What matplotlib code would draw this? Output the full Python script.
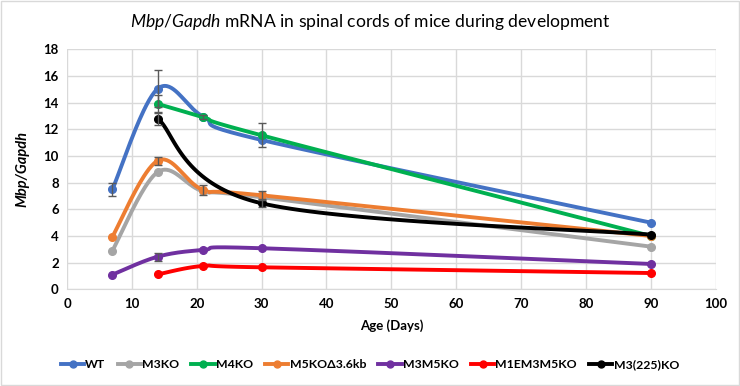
import numpy as np
import matplotlib
matplotlib.use('Agg')
from matplotlib import pyplot as plt
from matplotlib.patches import Rectangle

plt.rcParams['font.family'] = ['Lato', 'DejaVu Sans']
plt.rcParams['mathtext.fontset'] = 'custom'
plt.rcParams['mathtext.it'] = 'Lato:italic'
plt.rcParams['mathtext.rm'] = 'Lato'

# data
names = ['WT', 'M3KO', 'M4KO', 'M5KO\u03943.6kb', 'M3M5KO', 'M1EM3M5KO', 'M3(225)KO']
colors = ['#4472C4', '#A5A5A5', '#00B050', '#ED7D31', '#7030A0', '#FF0000', '#000000']

wt_days = [7, 14, 21, 30, 90]
wt_vals = [7.5, 15.05, 12.95, 11.2, 5.0]
wt_err = [0.5, 1.4, 0.15, 0, 0]

m3_days = [7, 14, 21, 30, 90]
m3_vals = [2.9, 8.8, 7.35, 6.9, 3.2]
m3_err = [0, 0, 0, 0, 0]

m4_days = [14, 21, 30, 90]
m4_vals = [13.9, 12.9, 11.55, 4.0]
m4_err = [0.7, 0, 0.9, 0]

m5_days = [7, 14, 21, 30, 90]
m5_vals = [3.95, 9.65, 7.45, 7.05, 4.0]
m5_err = [0, 0.3, 0.4, 0.35, 0]

m3m5_days = [7, 14, 21, 30, 90]
m3m5_vals = [1.1, 2.45, 2.95, 3.08, 1.9]
m3m5_err = [0, 0.3, 0, 0, 0]

m1e_days = [14, 21, 30, 90]
m1e_vals = [1.12, 1.75, 1.65, 1.22]
m1e_err = [0, 0, 0, 0]

m225_days = [14, 30, 90]
m225_vals = [12.8, 6.45, 4.1]
m225_err = [0.5, 0.3, 0]

series = [(wt_days, wt_vals, wt_err), (m3_days, m3_vals, m3_err),
          (m4_days, m4_vals, m4_err), (m5_days, m5_vals, m5_err),
          (m3m5_days, m3m5_vals, m3m5_err), (m1e_days, m1e_vals, m1e_err),
          (m225_days, m225_vals, m225_err)]


# smoothed line like Excel (catmull-rom bezier)
def smooth(x, y, n=40):
    p = np.column_stack([x, y]).astype(float)
    pts = [p[0]]
    for i in range(len(p) - 1):
        p0 = p[i - 1] if i > 0 else p[i]
        p3 = p[i + 2] if i + 2 < len(p) else p[i + 1]
        c1 = p[i] + (p[i + 1] - p0) / 6
        c2 = p[i + 1] - (p3 - p[i]) / 6
        t = np.linspace(0, 1, n)[1:, None]
        b = (1 - t)**3 * p[i] + 3 * (1 - t)**2 * t * c1 + 3 * (1 - t) * t**2 * c2 + t**3 * p[i + 1]
        pts.extend(b)
    pts = np.array(pts)
    return pts[:, 0], pts[:, 1]


fig = plt.figure(figsize=(7.4, 3.86), dpi=100)
ax = fig.add_axes([67 / 740, 1 - 289.3 / 386, (715.7 - 67) / 740, (289.3 - 49.3) / 386])
fig.patches.append(Rectangle((0.002, 0.003), 0.996, 0.994, transform=fig.transFigure,
                             fill=False, edgecolor='#D9D9D9', lw=1))

handles = []
for (d, v, e), name, c in zip(series, names, colors):
    sx, sy = smooth(d, v)
    ax.plot(sx, sy, color=c, lw=2.8, solid_capstyle='round', zorder=2)
    ax.plot(d, v, 'o', color=c, ms=5.5, zorder=3)
    e = np.array(e)
    m = e > 0
    if m.any():
        ax.errorbar(np.array(d)[m], np.array(v)[m], yerr=e[m], fmt='none',
                    ecolor='#595959', elinewidth=1, capsize=3, capthick=1, zorder=4)
    h, = ax.plot([], [], color=c, lw=2.8, marker='o', ms=5, label=name)
    handles.append(h)

ax.set_xlim(0, 100)
ax.set_ylim(0, 18)
ax.set_xticks(range(0, 101, 10))
ax.set_yticks(range(0, 19, 2))
ax.grid(True, color='#D9D9D9', lw=1)
ax.set_axisbelow(True)
for s in ['top', 'right', 'left']:
    ax.spines[s].set_visible(False)
ax.spines['bottom'].set_color('#D9D9D9')
ax.tick_params(length=0, labelsize=9.5, pad=6)
for lab in ax.get_xticklabels() + ax.get_yticklabels():
    lab.set_fontweight('bold')

ax.set_xlabel('Age (Days)', fontsize=9.5, fontweight='bold', labelpad=7)
ax.set_ylabel('Mbp/Gapdh', fontsize=10.5, fontweight='bold', style='italic', labelpad=10)

fig.text(0.5, 1 - 22 / 386, r'$Mbp/Gapdh$ mRNA in spinal cords of mice during development',
         ha='center', va='center', fontsize=12.6)

fig.legend(handles=handles, loc='center', bbox_to_anchor=(0.5, 1 - 365 / 386), ncol=7,
           frameon=False, prop={'weight': 'bold', 'size': 8.8}, handlelength=1.9,
           handletextpad=0.1, columnspacing=1.0)

fig.savefig('out.png', dpi=100)
